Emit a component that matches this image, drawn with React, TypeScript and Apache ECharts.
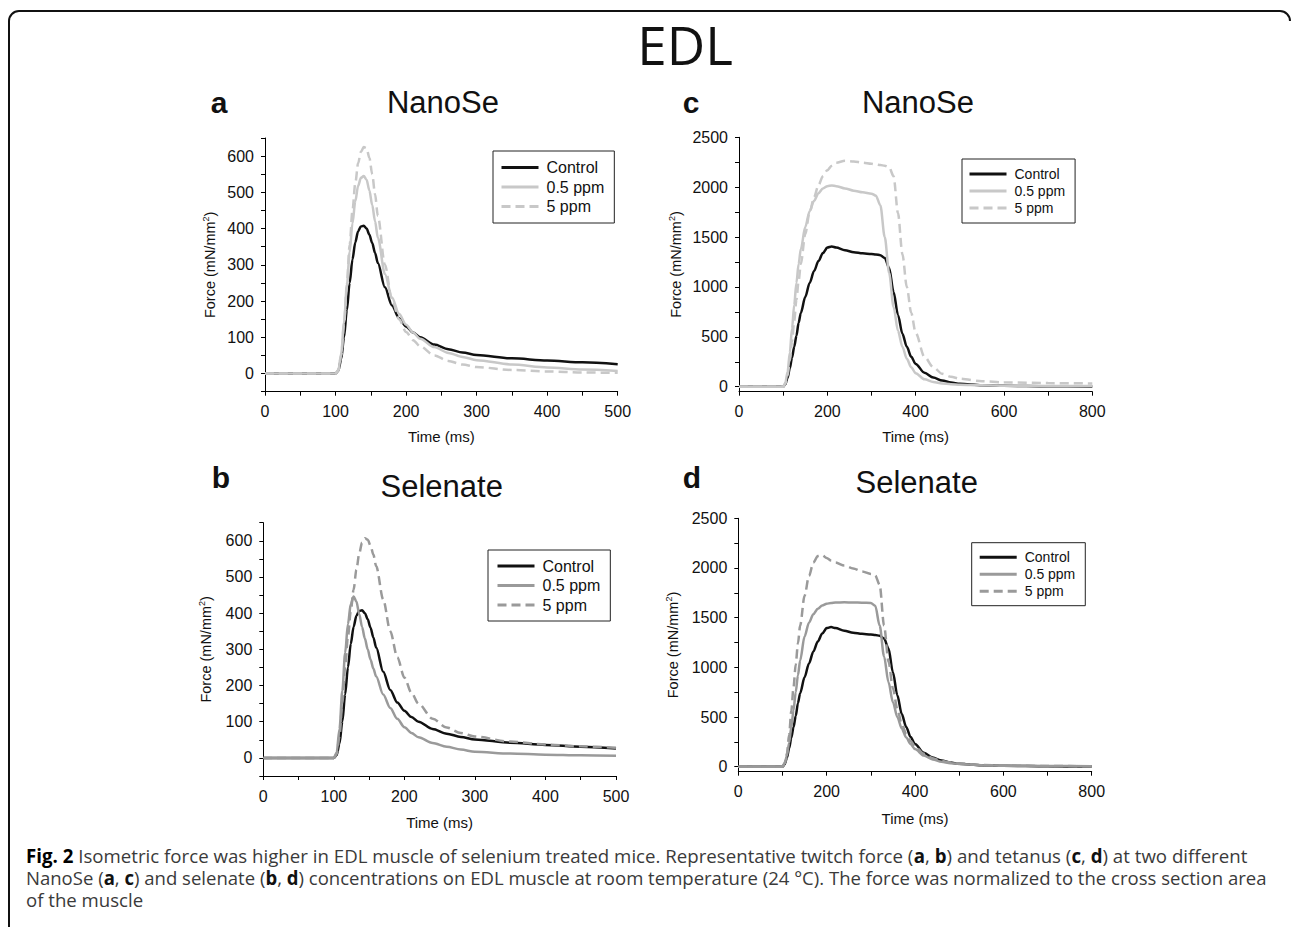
import React, { useEffect, useRef } from 'react';
import * as echarts from 'echarts';

// ---------- DATA ----------
const twitchTime = [0, 100, 104, 108, 112, 116, 120, 124, 128, 132, 136, 140, 144, 148, 152, 156, 160, 170, 180, 190, 200, 210, 220, 240, 260, 280, 300, 350, 400, 450, 500];
const twitchControl = [0, 0, 8, 40, 100, 175, 250, 315, 362, 393, 406, 408, 400, 383, 360, 333, 305, 238, 188, 153, 130, 113, 100, 80, 67, 58, 51, 42, 36, 31, 26];
const nanoTwitch05 = [0, 0, 10, 55, 140, 240, 335, 415, 475, 518, 540, 545, 535, 505, 465, 420, 375, 275, 210, 165, 135, 113, 96, 73, 57, 46, 37, 25, 17, 11, 7];
const nanoTwitch5 = [0, 0, 8, 50, 135, 245, 355, 450, 525, 580, 612, 625, 622, 595, 550, 495, 435, 300, 205, 150, 115, 92, 75, 50, 35, 25, 18, 10, 6, 3, 2];
const selTwitch05 = [0, 0, 15, 80, 185, 290, 370, 425, 446, 432, 398, 362, 330, 300, 272, 247, 225, 175, 138, 108, 85, 69, 57, 41, 31, 23, 17, 12, 9, 7, 6];
const selTwitch5 = [0, 0, 10, 60, 150, 250, 335, 405, 465, 520, 565, 595, 607, 603, 587, 562, 530, 438, 350, 278, 222, 180, 150, 108, 84, 69, 59, 45, 37, 32, 28];

const tetTime = [0, 100, 105, 110, 115, 120, 125, 130, 135, 140, 150, 160, 170, 180, 190, 200, 210, 220, 240, 260, 280, 300, 310, 320, 330, 340, 350, 360, 370, 380, 390, 400, 420, 440, 460, 480, 500, 550, 600, 700, 800];
const tetControl = [0, 0, 25, 90, 185, 290, 400, 510, 640, 740, 900, 1040, 1160, 1260, 1340, 1395, 1405, 1395, 1368, 1348, 1337, 1330, 1326, 1318, 1290, 1190, 950, 720, 530, 400, 300, 228, 140, 92, 62, 42, 30, 15, 9, 4, 2];
const nanoTet05 = [0, 0, 40, 150, 340, 580, 820, 1040, 1230, 1380, 1600, 1760, 1865, 1940, 1988, 2010, 2018, 2010, 1988, 1965, 1948, 1935, 1915, 1820, 1500, 1140, 800, 560, 400, 280, 195, 135, 75, 48, 33, 25, 20, 14, 10, 8, 7];
const nanoTet5 = [0, 0, 30, 110, 260, 450, 660, 870, 1060, 1230, 1530, 1750, 1900, 2020, 2110, 2170, 2215, 2245, 2265, 2258, 2245, 2235, 2228, 2222, 2215, 2200, 2110, 1740, 1330, 1000, 740, 540, 300, 195, 130, 100, 80, 55, 44, 36, 33];
const selTet05 = [0, 0, 30, 110, 240, 400, 570, 750, 920, 1070, 1310, 1450, 1535, 1590, 1622, 1640, 1648, 1652, 1654, 1653, 1651, 1648, 1620, 1420, 1110, 850, 650, 500, 385, 295, 228, 178, 112, 74, 50, 36, 28, 16, 11, 7, 5];
const selTet5 = [0, 0, 40, 130, 320, 560, 800, 1030, 1240, 1420, 1720, 1920, 2055, 2120, 2128, 2100, 2075, 2055, 2025, 1995, 1965, 1940, 1925, 1830, 1420, 1060, 790, 580, 430, 330, 258, 205, 130, 86, 58, 42, 32, 18, 12, 7, 5];

const seriesNames = ['Control', '0.5 ppm', '5 ppm'];
const twitchYTicks = [-50, 0, 50, 100, 150, 200, 250, 300, 350, 400, 450, 500, 550, 600, 650];
const twitchYLabels = [0, 100, 200, 300, 400, 500, 600];
const tetYTicks = [0, 250, 500, 750, 1000, 1250, 1500, 1750, 2000, 2250, 2500];
const tetYLabels = [0, 500, 1000, 1500, 2000, 2500];

const mainTitle = 'EDL';
const panelLetters = ['a', 'b', 'c', 'd'];
const panelTitles = ['NanoSe', 'Selenate', 'NanoSe', 'Selenate'];
const xName = 'Time (ms)';
const captionLines = [
  '{b|Fig. 2} Isometric force was higher in EDL muscle of selenium treated mice. Representative twitch force ({k|a}, {k|b}) and tetanus ({k|c}, {k|d}) at two different',
  'NanoSe ({k|a}, {k|c}) and selenate ({k|b}, {k|d}) concentrations on EDL muscle at room temperature (24 °C). The force was normalized to the cross section area',
  'of the muscle',
];

// ---------- HELPERS ----------
const pair = (t: number[], v: number[]) => t.map((x, i) => [x, v[i]]);
const FONT = "'Liberation Sans', Arial, Helvetica, sans-serif";
const CAP_FONT = "'Open Sans', 'Noto Sans', sans-serif";
const CAP_SIZE = 19;

function measureRich(line: string) {
  const c = document.createElement('canvas');
  const ctx = c.getContext('2d')!;
  let w = 0;
  const re = /\{(\w)\|([^}]*)\}/g;
  let last = 0;
  let m: RegExpExecArray | null;
  const add = (s: string, bold: boolean) => {
    ctx.font = `${bold ? 'bold ' : ''}${CAP_SIZE}px 'Open Sans'`;
    w += ctx.measureText(s).width;
  };
  while ((m = re.exec(line))) {
    add(line.slice(last, m.index), false);
    add(m[2], true);
    last = m.index + m[0].length;
  }
  add(line.slice(last), false);
  return w;
}

export default function App() {
  const ref = useRef<HTMLDivElement>(null);

  useEffect(() => {
    document.body.style.margin = '0';
    const chart = echarts.init(ref.current!, undefined, { renderer: 'svg' });

    const grids = [
      { left: 265, top: 138, width: 352.7, height: 253.7 },
      { left: 263.3, top: 522.7, width: 352.7, height: 253.3 },
      { left: 739, top: 137.3, width: 353.3, height: 254.4 },
      { left: 738.3, top: 518.3, width: 353.4, height: 253.4 },
    ];
    const isTet = [false, false, true, true];
    const xNameGap = [37, 39, 37, 39];
    const yNameGap = [46, 48, 54, 56];
    const axisLine = { onZero: false, lineStyle: { color: '#000', width: 1 } };

    const xAxis = grids.map((_, i) => ({
      type: 'value',
      gridIndex: i,
      min: 0,
      max: isTet[i] ? 800 : 500,
      interval: isTet[i] ? 100 : 50,
      axisLine,
      axisTick: { show: true, length: 4, lineStyle: { color: '#000' } },
      axisLabel: {
        fontSize: 16,
        color: '#111',
        margin: 12,
        fontFamily: FONT,
        formatter: (v: number) => (v % (isTet[i] ? 200 : 100) === 0 ? String(v) : ''),
      },
      splitLine: { show: false },
      name: xName,
      nameLocation: 'middle',
      nameGap: xNameGap[i],
      nameTextStyle: { fontSize: 15, color: '#111', fontFamily: FONT },
    }));

    const yAxis = grids.map((_, i) => ({
      type: 'value',
      gridIndex: i,
      min: -50,
      max: isTet[i] ? 2500 : 650,
      axisLine,
      axisTick: { show: true, length: 4, lineStyle: { color: '#000' }, customValues: isTet[i] ? tetYTicks : twitchYTicks },
      axisLabel: {
        fontSize: 16,
        color: '#111',
        margin: 11,
        fontFamily: FONT,
        customValues: isTet[i] ? tetYLabels : twitchYLabels,
        formatter: (v: number) => String(v),
      },
      splitLine: { show: false },
      name: '{n|Force (mN/mm}{s|2}{n|)}',
      nameLocation: 'middle',
      nameRotate: 90,
      nameGap: yNameGap[i],
      nameTextStyle: {
        fontFamily: FONT,
        color: '#111',
        rich: {
          n: { fontSize: 14.5, lineHeight: 18, color: '#111', fontFamily: FONT },
          s: { fontSize: 9, lineHeight: 9, verticalAlign: 'top', color: '#111', fontFamily: FONT },
        },
      },
    }));

    const panelData = [
      { t: twitchTime, v: [twitchControl, nanoTwitch05, nanoTwitch5], gray: '#c8c8c8' },
      { t: twitchTime, v: [twitchControl, selTwitch05, selTwitch5], gray: '#9a9a9a' },
      { t: tetTime, v: [tetControl, nanoTet05, nanoTet5], gray: '#c8c8c8' },
      { t: tetTime, v: [tetControl, selTet05, selTet5], gray: '#9a9a9a' },
    ];

    const series: any[] = [];
    panelData.forEach((p, i) => {
      p.v.forEach((vals, k) => {
        const color = k === 0 ? '#111' : p.gray;
        series.push({
          type: 'line',
          name: `${panelLetters[i]}:${seriesNames[k]}`,
          xAxisIndex: i,
          yAxisIndex: i,
          data: pair(p.t, vals),
          symbol: 'none',
          showSymbol: false,
          smooth: 0.3,
          smoothMonotone: 'x',
          color,
          lineStyle: { color, width: 2.5, type: k === 2 ? [9, 5] : 'solid' },
          itemStyle: { color },
          z: 2 + k,
        });
      });
    });

    const legendPos = [
      { left: 493, top: 151, fs: 16, gap: 3.5, pad: [8.5, 10, 8.5, 7] },
      { left: 488, top: 550, fs: 16, gap: 3.5, pad: [8, 10, 8, 8] },
      { left: 962, top: 159, fs: 14, gap: 3, pad: [8, 10, 8, 6] },
      { left: 971.7, top: 542.7, fs: 14, gap: 3, pad: [7.5, 10, 7.5, 6.5] },
    ];
    const legend = legendPos.map((l, i) => ({
      left: l.left,
      top: l.top,
      orient: 'vertical',
      padding: l.pad,
      itemGap: l.gap,
      itemWidth: 37,
      itemHeight: 14,
      borderColor: '#222',
      borderWidth: 1,
      borderRadius: 0,
      selectedMode: false,
      itemStyle: { opacity: 0 },
      lineStyle: { width: 3 },
      data: seriesNames.map((n) => `${panelLetters[i]}:${n}`),
      formatter: (n: string) => n.split(':')[1],
      textStyle: { fontSize: l.fs, color: '#111', fontFamily: FONT, padding: [0, 0, 0, 3] },
    }));

    // caption scaling
    const capTargets = [1222, 1241];
    const s1 = capTargets[0] / measureRich(captionLines[0]);
    const s2 = capTargets[1] / measureRich(captionLines[1]);
    const capScales = [s1, s2, (s1 + s2) / 2];
    const capBase = [863, 885, 907.7];
    const richCap = {
      b: { fontWeight: 'bold', fill: '#000', fontSize: CAP_SIZE, fontFamily: CAP_FONT },
      k: { fontWeight: 'bold', fill: '#111', fontSize: CAP_SIZE, fontFamily: CAP_FONT },
    };

    const letterPos = [
      { x: 210.7, y: 102.3 },
      { x: 211.7, y: 477.6 },
      { x: 682.7, y: 102.3 },
      { x: 682.7, y: 477.9 },
    ];
    const titlePos = [
      { x: 443, y: 102.6 },
      { x: 441.7, y: 486 },
      { x: 918, y: 102.6 },
      { x: 916.7, y: 482 },
    ];

    const graphic: any[] = [
      { type: 'line', shape: { x1: 19, y1: 11, x2: 1280, y2: 11 }, style: { stroke: '#111', lineWidth: 2 } },
      { type: 'line', shape: { x1: 9, y1: 21, x2: 9, y2: 927 }, style: { stroke: '#111', lineWidth: 2 } },
      { type: 'arc', shape: { cx: 19, cy: 21, r: 10, startAngle: Math.PI, endAngle: Math.PI * 1.5, clockwise: true }, style: { stroke: '#111', lineWidth: 2, fill: 'none' } },
      { type: 'arc', shape: { cx: 1280, cy: 21, r: 10, startAngle: -Math.PI / 2, endAngle: 0, clockwise: true }, style: { stroke: '#111', lineWidth: 2, fill: 'none' } },
      {
        type: 'text',
        x: 685,
        y: 44.4,
        style: { text: mainTitle, fontSize: 53, fontFamily: CAP_FONT, fill: '#111', align: 'center', verticalAlign: 'middle' },
      },
    ];
    panelLetters.forEach((l, i) => {
      graphic.push({
        type: 'text',
        x: letterPos[i].x,
        y: letterPos[i].y,
        style: { text: l, fontSize: 30, fontWeight: 'bold', fontFamily: FONT, fill: '#111', align: 'left', verticalAlign: 'middle' },
      });
      graphic.push({
        type: 'text',
        x: titlePos[i].x,
        y: titlePos[i].y,
        style: { text: panelTitles[i], fontSize: 31, fontFamily: FONT, fill: '#111', align: 'center', verticalAlign: 'middle' },
      });
    });
    captionLines.forEach((line, i) => {
      graphic.push({
        type: 'text',
        x: 26,
        y: capBase[i] - 0.388 * CAP_SIZE,
        scaleX: capScales[i],
        style: {
          text: line,
          fontSize: CAP_SIZE,
          fontFamily: CAP_FONT,
          fill: '#3a3a3a',
          align: 'left',
          verticalAlign: 'middle',
          rich: richCap,
        },
      });
    });

    chart.setOption({
      animation: false,
      backgroundColor: '#fff',
      textStyle: { fontFamily: FONT },
      grid: grids.map((g) => ({ ...g, containLabel: false })),
      xAxis,
      yAxis,
      legend,
      series,
      graphic,
    });

    return () => chart.dispose();
  }, []);

  return <div ref={ref} style={{ width: 1292, height: 927 }} />;
}
